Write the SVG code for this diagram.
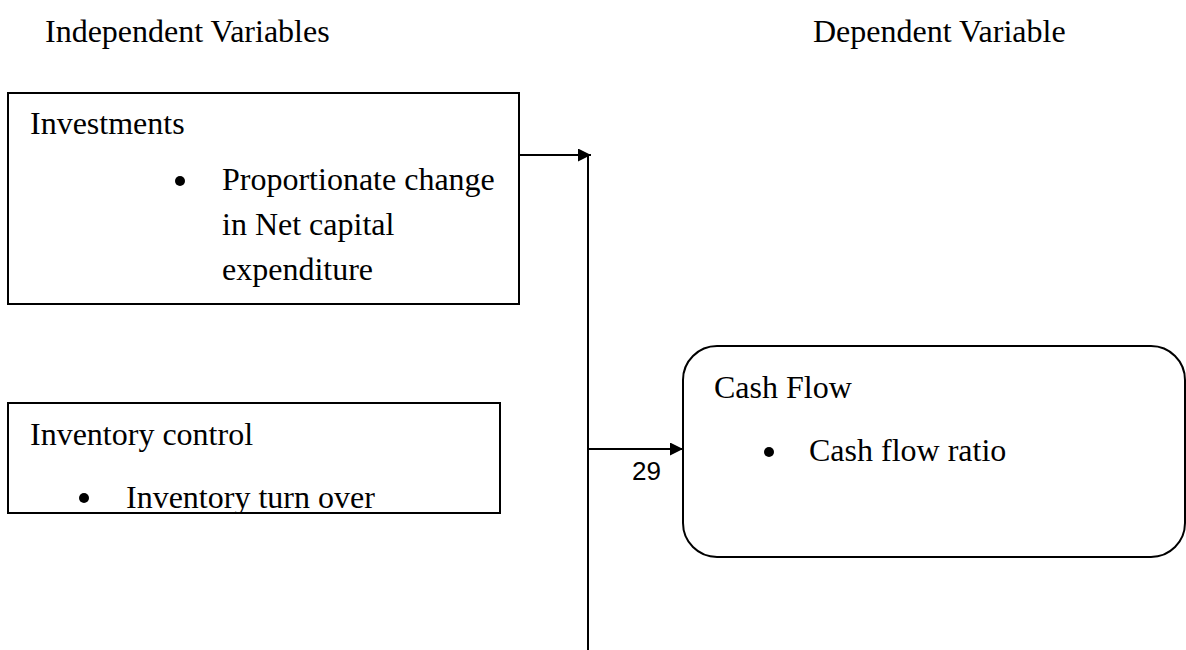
<svg xmlns="http://www.w3.org/2000/svg" width="1186" height="650" viewBox="0 0 1186 650">
<style>
.t{font-family:"Liberation Serif","Times New Roman",serif;font-size:32px;fill:#000}
.n{font-family:"Liberation Sans",Arial,sans-serif;font-size:26px;fill:#000}
.box{fill:#fff;stroke:#000;stroke-width:2}
.ln{fill:none;stroke:#000;stroke-width:2}
</style>
<defs>
<marker id="ah" viewBox="0 0 10 10" refX="10" refY="5" markerWidth="15" markerHeight="13" markerUnits="userSpaceOnUse" orient="auto"><path d="M0,0 L10,5 L0,10 z" fill="#000"/></marker>
<clipPath id="c2"><rect x="8" y="403" width="492" height="109"/></clipPath>
</defs>
<g id="headers">
<text class="t" x="45" y="42">Independent Variables</text>
<text class="t" x="813" y="42">Dependent Variable</text>
</g>
<g id="investments">
<rect class="box" x="8" y="93" width="511" height="211"/>
<text class="t" x="30" y="134">Investments</text>
<circle cx="180" cy="181" r="5"/>
<text class="t" x="222" y="190">Proportionate change</text>
<text class="t" x="222" y="235">in Net capital</text>
<text class="t" x="222" y="280">expenditure</text>
</g>
<g id="inventory">
<rect class="box" x="8" y="403" width="492" height="110"/>
<text class="t" x="30" y="445">Inventory control</text>
<circle cx="84" cy="498" r="5"/>
<text class="t" x="126" y="508" clip-path="url(#c2)">Inventory turn over</text>
</g>
<g id="cashflow">
<rect class="box" x="683" y="346" width="502" height="211" rx="34" ry="34"/>
<text class="t" x="714" y="398">Cash Flow</text>
<circle cx="769" cy="452" r="5"/>
<text class="t" x="809" y="461">Cash flow ratio</text>
</g>
<g id="connectors">
<line class="ln" x1="519" y1="155" x2="591" y2="155" marker-end="url(#ah)"/>
<line class="ln" x1="588" y1="155" x2="588" y2="650"/>
<line class="ln" x1="588" y1="449" x2="683" y2="449" marker-end="url(#ah)"/>
<text class="n" x="632" y="480">29</text>
</g>
</svg>
